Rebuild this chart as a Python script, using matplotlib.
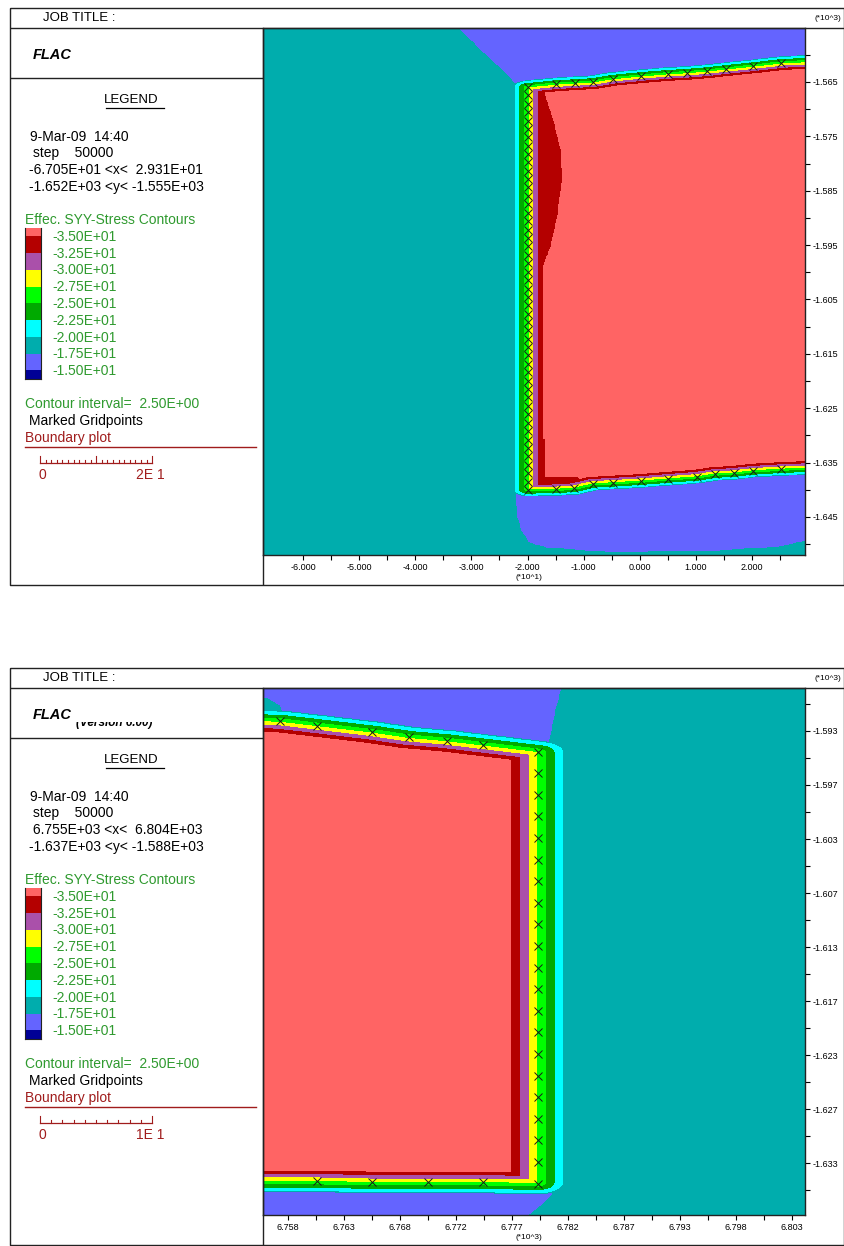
import numpy as np
import matplotlib
matplotlib.use("Agg")
from matplotlib import pyplot as plt
from matplotlib.path import Path
from matplotlib.patches import Rectangle
from matplotlib.transforms import Bbox, TransformedBbox

plt.rcParams['font.family'] = ['Liberation Sans', 'DejaVu Sans']

W, H = 845, 1246

# effective SYY stress contour bands (low -> high)
levels = [-40.0, -35.0, -32.5, -30.0, -27.5, -25.0, -22.5, -20.0, -17.5, -15.0, -10.0]
band_colors = ["#ff6464", "#b40000", "#aa50aa", "#ffff00", "#00ff00",
               "#00aa00", "#00ffff", "#00adad", "#6464ff", "#000096"]
legend_labels = ["-3.50E+01", "-3.25E+01", "-3.00E+01", "-2.75E+01", "-2.50E+01",
                 "-2.25E+01", "-2.00E+01", "-1.75E+01", "-1.50E+01"]
teal_value = -18.75
blue_value = -16.25
lens_value = -33.75

# ---------------- plot 1 ----------------
p1_xlim = (-67.13, 29.44)
p1_ylim = (-1651.99, -1555.07)
p1_info = ["9-Mar-09  14:40", "step    50000",
           "-6.705E+01 <x<  2.931E+01", "-1.652E+03 <y< -1.555E+03"]
p1_xticks = [-60, -50, -40, -30, -20, -10, 0, 10, 20]
p1_xticklabels = ["-6.000", "-5.000", "-4.000", "-3.000", "-2.000",
                  "-1.000", "0.000", "1.000", "2.000"]
p1_xminor = [-55, -45, -35, -25, -15, -5, 5, 15, 25]
p1_yticks = [-1565, -1575, -1585, -1595, -1605, -1615, -1625, -1635, -1645]
p1_yticklabels = ["-1.565", "-1.575", "-1.585", "-1.595", "-1.605",
                  "-1.615", "-1.625", "-1.635", "-1.645"]
p1_yminor = [-1560, -1570, -1580, -1590, -1600, -1610, -1620, -1630, -1640, -1650]

# marked gridpoints along the pillar boundary
p1_top_x = [-19.9, -14.9, -11.5, -8.3, -4.8, 0.2, 5.0, 8.4, 12.0, 15.4, 20.2, 25.2]
p1_top_y = [-1565.9, -1565.4, -1565.2, -1565.0, -1564.4, -1563.9, -1563.5,
            -1563.3, -1563.0, -1562.6, -1562.1, -1561.5]
p1_side_x = -19.9
p1_side_y = [-1567.4, -1569.0, -1570.5, -1572.1, -1573.6, -1575.2, -1576.7, -1578.3,
             -1579.8, -1581.3, -1582.9, -1584.4, -1586.0, -1587.5, -1589.1, -1590.6,
             -1592.2, -1593.7, -1595.2, -1596.8, -1598.3, -1599.9, -1601.4, -1603.0,
             -1604.5, -1606.0, -1607.6, -1609.1, -1610.7, -1612.2, -1613.8, -1615.3,
             -1616.9, -1618.4, -1619.9, -1621.5, -1623.0, -1624.6, -1626.1, -1627.7,
             -1629.2, -1630.8, -1632.3, -1633.8, -1635.4, -1636.9, -1638.5]
p1_bot_x = [-19.9, -14.9, -11.7, -8.3, -4.8, 0.2, 5.0, 10.2, 13.4, 16.8, 20.2, 25.2]
p1_bot_y = [-1640.0, -1639.9, -1639.7, -1638.9, -1638.7, -1638.4, -1638.0,
            -1637.6, -1637.1, -1636.9, -1636.5, -1636.2]
p1_edge_x = 35.0
p1_edge_top_y = -1561.0
p1_edge_bot_y = -1635.8
p1_band_w = (0.84, 0.40)

p1_blue_top_x = [-34.0, -28.5, -26.2, -23.7, -22.2, -19.6, 31.0, 31.0]
p1_blue_top_y = [-1553.0, -1558.8, -1561.0, -1563.3, -1565.2, -1568.3, -1568.3, -1553.0]
p1_blue_bot_x = [-22.2, -21.9, -21.7, -21.0, -19.6, -16.5, -4.8, 13.1, 25.0, 29.4, 31.0, 31.0, -17.8]
p1_blue_bot_y = [-1640.0, -1641.3, -1645.0, -1647.4, -1649.6, -1650.5, -1651.4,
                 -1651.1, -1650.3, -1649.2, -1649.2, -1634.0, -1634.0]
p1_lens_x = [-18.5, -17.2, -15.5, -14.2, -14.0, -14.7, -16.0, -17.2, -17.8, -18.5]
p1_lens_y = [-1566.5, -1566.7, -1572.0, -1577.5, -1583.0, -1589.1, -1595.3,
             -1598.3, -1601.4, -1601.4]
p1_corner_x = [-18.7, -16.9, -16.9, -11.0, -11.0, -18.7]
p1_corner_y = [-1630.8, -1630.8, -1637.8, -1637.8, -1640.4, -1640.4]

# ---------------- plot 2 ----------------
p2_xlim = (6755.27, 6803.66)
p2_ylim = (-1637.31, -1588.52)
p2_info = ["9-Mar-09  14:40", "step    50000",
           " 6.755E+03 <x<  6.804E+03", "-1.637E+03 <y< -1.588E+03"]
p2_xticks = [6757.5, 6762.5, 6767.5, 6772.5, 6777.5, 6782.5, 6787.5, 6792.5, 6797.5, 6802.5]
p2_xticklabels = ["6.758", "6.763", "6.768", "6.772", "6.777",
                  "6.782", "6.787", "6.793", "6.798", "6.803"]
p2_xminor = [6760, 6765, 6770, 6775, 6780, 6785, 6790, 6795, 6800]
p2_yticks = [-1592.5, -1597.5, -1602.5, -1607.5, -1612.5, -1617.5, -1622.5, -1627.5, -1632.5]
p2_yticklabels = ["-1.593", "-1.597", "-1.603", "-1.607", "-1.613",
                  "-1.617", "-1.623", "-1.627", "-1.633"]
p2_yminor = [-1590, -1595, -1600, -1605, -1610, -1615, -1620, -1625, -1630, -1635]

p2_top_x = [6756.8, 6760.1, 6765.0, 6768.3, 6771.7, 6774.9, 6779.8]
p2_top_y = [-1591.6, -1592.0, -1592.6, -1593.1, -1593.4, -1593.8, -1594.4]
p2_side_x = 6779.8
p2_side_y = [-1596.4, -1598.4, -1600.4, -1602.4, -1604.4, -1606.4, -1608.4, -1610.4,
             -1612.4, -1614.4, -1616.4, -1618.4, -1620.4, -1622.4, -1624.4, -1626.4,
             -1628.4, -1630.4, -1632.4]
p2_bot_x = [6760.1, 6765.0, 6770.0, 6774.9, 6779.8]
p2_bot_y = [-1634.2, -1634.3, -1634.3, -1634.3, -1634.4]
p2_edge_x = 6750.0
p2_edge_top_y = -1591.4
p2_edge_bot_y = -1634.2
p2_band_w = (0.77, 0.32)

p2_blue_top_x = [6754.1, 6782.7, 6781.8, 6781.3, 6780.7, 6779.1, 6754.1, 6754.1,
                 6757.2, 6756.8, 6755.7, 6754.1]
p2_blue_top_y = [-1587.8, -1587.8, -1588.7, -1590.7, -1593.8, -1596.1, -1596.1, -1591.1,
                 -1591.1, -1590.1, -1589.4, -1589.3]
p2_blue_bot_x = [6754.1, 6781.6, 6781.4, 6780.0, 6778.8, 6778.2, 6754.1]
p2_blue_bot_y = [-1633.2, -1633.2, -1635.0, -1636.4, -1637.4, -1638.7, -1638.7]


def inside(px, py, gx, gy):
    pts = np.column_stack([gx.ravel(), gy.ravel()])
    return Path(np.column_stack([px, py])).contains_points(pts).reshape(gx.shape)


def stress_field(bx, by, band_w, xlim, ylim, blue_polys, lens_polys, n=700):
    gx, gy = np.meshgrid(np.linspace(xlim[0], xlim[1], n), np.linspace(ylim[0], ylim[1], n))
    wx, wy = band_w
    X, Y = gx / wx, gy / wy
    BX, BY = np.asarray(bx) / wx, np.asarray(by) / wy
    dist = np.full(gx.shape, np.inf)
    for i in range(len(BX) - 1):
        ex, ey = BX[i + 1] - BX[i], BY[i + 1] - BY[i]
        t = ((X - BX[i]) * ex + (Y - BY[i]) * ey) / (ex * ex + ey * ey)
        t = np.clip(t, 0, 1)
        dist = np.minimum(dist, np.hypot(X - BX[i] - t * ex, Y - BY[i] - t * ey))
    d = np.where(inside(bx, by, gx, gy), -dist, dist)
    v = np.where(d <= 3, -27.5 + 2.5 * d, -20 + 10 * (d - 3))
    v = np.maximum(v, -37.5)
    bg = np.full(gx.shape, teal_value)
    for px, py in blue_polys:
        bg[inside(px, py, gx, gy)] = blue_value
    v = np.minimum(v, bg)
    for px, py in lens_polys:
        v = np.where(inside(px, py, gx, gy) & (v < -35), lens_value, v)
    return gx, gy, v


def setup_axes(ax, xlim, ylim, xt, xtl, xm, yt, ytl, ym, mult):
    ax.set_xlim(xlim)
    ax.set_ylim(ylim)
    ax.set_xticks(xt)
    ax.set_xticklabels(xtl)
    ax.set_xticks(xm, minor=True)
    ax.yaxis.tick_right()
    ax.set_yticks(yt)
    ax.set_yticklabels(ytl)
    ax.set_yticks(ym, minor=True)
    ax.tick_params(which='both', direction='out', length=3.5, width=0.8,
                   pad=2, labelsize=6.5)
    for s in ax.spines.values():
        s.set_linewidth(1.0)
        s.set_color("#222222")
    ax.text(0.49, -0.042, mult, transform=ax.transAxes, ha='center', va='center', fontsize=6)


fig = plt.figure(figsize=(W / 100, H / 100), dpi=100)
fig.patch.set_facecolor("white")


def px_axes(x0, y0, x1, y1):
    return fig.add_axes([x0 / W, 1 - y1 / H, (x1 - x0) / W, (y1 - y0) / H])


panels = [
    dict(top=8, info=p1_info, xlim=p1_xlim, ylim=p1_ylim,
         xt=p1_xticks, xtl=p1_xticklabels, xm=p1_xminor,
         yt=p1_yticks, ytl=p1_yticklabels, ym=p1_yminor, mult="(*10^1)",
         bx=[p1_edge_x] + p1_top_x[::-1] + [p1_side_x] * len(p1_side_y) + p1_bot_x + [p1_edge_x],
         by=[p1_edge_top_y] + p1_top_y[::-1] + p1_side_y + p1_bot_y + [p1_edge_bot_y],
         mx=p1_top_x + [p1_side_x] * len(p1_side_y) + p1_bot_x,
         my=p1_top_y + p1_side_y + p1_bot_y,
         band_w=p1_band_w,
         blue=[(p1_blue_top_x, p1_blue_top_y), (p1_blue_bot_x, p1_blue_bot_y)],
         lens=[(p1_lens_x, p1_lens_y), (p1_corner_x, p1_corner_y)],
         scale=20, scale_label="2E 1", version=False),
    dict(top=668, info=p2_info, xlim=p2_xlim, ylim=p2_ylim,
         xt=p2_xticks, xtl=p2_xticklabels, xm=p2_xminor,
         yt=p2_yticks, ytl=p2_yticklabels, ym=p2_yminor, mult="(*10^3)",
         bx=[p2_edge_x] + p2_top_x + [p2_side_x] * len(p2_side_y) + p2_bot_x[::-1] + [p2_edge_x],
         by=[p2_edge_top_y] + p2_top_y + p2_side_y + p2_bot_y[::-1] + [p2_edge_bot_y],
         mx=p2_top_x + [p2_side_x] * len(p2_side_y) + p2_bot_x,
         my=p2_top_y + p2_side_y + p2_bot_y,
         band_w=p2_band_w,
         blue=[(p2_blue_top_x, p2_blue_top_y), (p2_blue_bot_x, p2_blue_bot_y)],
         lens=[],
         scale=10, scale_label="1E 1", version=True),
]

axes = []
for p in panels:
    top = p["top"]
    ax = px_axes(263, top + 20, 805, top + 547)
    gx, gy, v = stress_field(p["bx"], p["by"], p["band_w"], p["xlim"], p["ylim"],
                             p["blue"], p["lens"])
    ax.contourf(gx, gy, v, levels=levels, colors=band_colors)
    ax.plot(p["mx"], p["my"], linestyle="none", marker="x", ms=6, mew=0.7, color="#1a1a1a")
    setup_axes(ax, p["xlim"], p["ylim"], p["xt"], p["xtl"], p["xm"],
               p["yt"], p["ytl"], p["ym"], p["mult"])
    axes.append(ax)

# frames, legend and titles drawn in pixel space
ov = fig.add_axes([0, 0, 1, 1], zorder=10)
ov.set_xlim(0, W)
ov.set_ylim(H, 0)
ov.axis("off")
ov.patch.set_alpha(0)

green = "#2f9a2f"
dred = "#a01c1c"
frame = dict(color="#222222", lw=1.0, solid_capstyle="butt")

for p, ax in zip(panels, axes):
    top = p["top"]
    bot = top + 577
    ov.plot([10, 844.5, 844.5, 10, 10], [top, top, bot, bot, top], **frame)
    ov.plot([10, 844.5], [top + 20, top + 20], **frame)
    ov.plot([263, 263], [top + 20, bot], **frame)
    ov.plot([10, 263], [top + 70, top + 70], **frame)

    ov.text(43, top + 10, "JOB TITLE :", va="center", fontsize=9.5)
    ov.text(828, top + 10, "(*10^3)", va="center", ha="center", fontsize=6)
    ov.text(33, top + 47, "FLAC", va="center", fontsize=10.5,
            fontweight="bold", fontstyle="italic")
    if p["version"]:
        t = ov.text(76, top + 58, "(Version 6.00)", va="baseline", fontsize=8.5,
                    fontweight="bold", fontstyle="italic")
        t.set_clip_box(TransformedBbox(Bbox([[70, top + 54], [200, top + 68]]), ov.transData))
        t.set_clip_on(True)

    ov.text(131, top + 92, "LEGEND", va="center", ha="center", fontsize=9.5)
    ov.plot([106, 164], [top + 100, top + 100], color="k", lw=0.9)

    for (xs, dy), line in zip([(30, 129), (33, 145), (29, 162), (29, 179)], p["info"]):
        ov.text(xs, top + dy, line, va="center", fontsize=10)

    ov.text(25, top + 212, "Effec. SYY-Stress Contours", va="center", fontsize=10, color=green)
    step = 16.75
    y = top + 220
    n = len(band_colors)
    for i, c in enumerate(band_colors):
        h = step / 2 if i in (0, n - 1) else step
        ov.add_patch(Rectangle((25, y), 16, h, facecolor=c, edgecolor="none"))
        y += h
    ov.plot([25, 25], [top + 220, y], color="#222222", lw=0.8)
    ov.plot([41, 41], [top + 220, y], color="#222222", lw=0.8)
    ov.plot([25, 41], [y, y], color="#222222", lw=0.8)
    for i, lab in enumerate(legend_labels):
        ov.text(52, top + 229 + step * i, lab, va="center", fontsize=10, color=green)

    ov.text(25, top + 396, "Contour interval=  2.50E+00", va="center", fontsize=10, color=green)
    ov.text(29, top + 413, "Marked Gridpoints", va="center", fontsize=10)
    ov.text(25, top + 430, "Boundary plot", va="center", fontsize=10, color=dred)
    ov.plot([25, 256], [top + 439, top + 439], color=dred, lw=1.0)

    # scale bar in model units
    x0 = 40
    px_per_unit = 542 / (p["xlim"][1] - p["xlim"][0])
    length = p["scale"] * px_per_unit
    base = top + 455
    ov.plot([x0, x0 + length], [base, base], color=dred, lw=0.9)
    for k in range(21 if p["scale"] == 20 else 11):
        xx = x0 + k * px_per_unit
        tall = (k % 10 == 0)
        ov.plot([xx, xx], [base, base - (7 if tall else 3.5)], color=dred, lw=0.8)
    ov.text(x0 + 2, top + 467, "0", va="center", ha="center", fontsize=10, color=dred)
    ov.text(x0 + length - 2, top + 467, p["scale_label"], va="center", ha="center",
            fontsize=10, color=dred)

fig.savefig("out.png", dpi=100)
